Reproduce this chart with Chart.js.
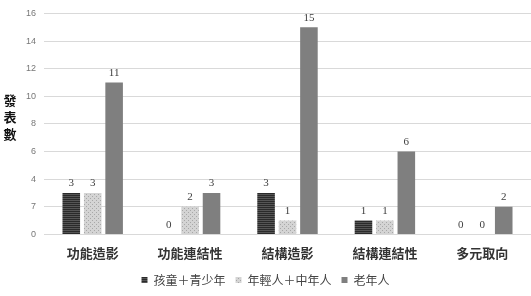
<!DOCTYPE html>
<html>
<head>
<meta charset="utf-8">
<script src="https://cdn.jsdelivr.net/npm/chart.js@4/dist/chart.umd.min.js"></script>
<style>
  body { margin: 0; background: #fff; }
</style>
</head>
<body>
<canvas id="chart" width="531" height="296"></canvas>
<script>
const categories = ["功能造影", "功能連結性", "結構造影", "結構連結性", "多元取向"];
const seriesNames = ["孩童＋青少年", "年輕人＋中年人", "老年人"];
const youth = [3, 0, 3, 1, 0];
const adults = [3, 2, 1, 1, 0];
const elderly = [11, 3, 15, 6, 2];
const tickLabels = ["0", "7", "4", "6", "8", "10", "12", "14", "16"];

const cjk = "'Noto Sans CJK TC', 'Noto Sans CJK SC', sans-serif";

function makePattern(bg, fg, kind) {
  const c = document.createElement("canvas");
  c.width = 4;
  c.height = 4;
  const g = c.getContext("2d");
  g.fillStyle = bg;
  g.fillRect(0, 0, 4, 4);
  g.fillStyle = fg;
  if (kind === "lines") {
    g.fillRect(0, 0, 4, 1);
    g.fillRect(0, 2, 4, 1);
  } else {
    g.fillRect(0, 0, 1, 1);
    g.fillRect(2, 2, 1, 1);
  }
  return g.createPattern(c, "repeat");
}

const darkFill = makePattern("#2a2a2a", "#555555", "lines");
const lightFill = makePattern("#d4d4d4", "#a8a8a8", "dots");

// values above bars
const valueLabels = {
  id: "valueLabels",
  afterDatasetsDraw(chart) {
    const ctx = chart.ctx;
    ctx.save();
    ctx.font = "11px 'Liberation Serif', serif";
    ctx.fillStyle = "#404040";
    ctx.textAlign = "center";
    ctx.textBaseline = "bottom";
    chart.data.datasets.forEach((ds, i) => {
      chart.getDatasetMeta(i).data.forEach((bar, j) => {
        ctx.fillText(String(ds.data[j]), bar.x, bar.y - 4);
      });
    });
    ctx.restore();
  }
};

// vertical y title
const yTitle = {
  id: "yTitle",
  afterDraw(chart) {
    const ctx = chart.ctx;
    ctx.save();
    ctx.font = "bold 13px " + cjk;
    ctx.fillStyle = "#111";
    ctx.textAlign = "center";
    ctx.textBaseline = "middle";
    ["發", "表", "數"].forEach((ch, k) => {
      ctx.fillText(ch, 10, 100 + k * 17);
    });
    ctx.restore();
  }
};

new Chart(document.getElementById("chart"), {
  type: "bar",
  data: {
    labels: categories,
    datasets: [
      { label: seriesNames[0], data: youth, backgroundColor: darkFill },
      { label: seriesNames[1], data: adults, backgroundColor: lightFill },
      { label: seriesNames[2], data: elderly, backgroundColor: "#7f7f7f" }
    ]
  },
  options: {
    responsive: false,
    animation: false,
    categoryPercentage: 0.66,
    barPercentage: 0.82,
    layout: { padding: { top: 8, right: 0, left: 0, bottom: 0 } },
    plugins: {
      legend: {
        position: "bottom",
        labels: {
          boxWidth: 6,
          boxHeight: 6,
          padding: 10,
          color: "#444",
          font: { size: 12, family: cjk }
        }
      },
      tooltip: { enabled: false }
    },
    scales: {
      x: {
        grid: { display: false },
        border: { display: false },
        ticks: {
          color: "#333",
          padding: 3,
          font: { size: 13, weight: "bold", family: cjk }
        }
      },
      y: {
        min: 0,
        max: 16,
        afterFit: (s) => { s.width = 44; },
        border: { display: false },
        grid: { color: "#d9d9d9", drawTicks: false },
        ticks: {
          stepSize: 2,
          padding: 8,
          color: "#777",
          font: { size: 9, family: "'Liberation Sans', sans-serif" },
          callback: (v) => tickLabels[v / 2]
        }
      }
    }
  },
  plugins: [valueLabels, yTitle]
});
</script>
</body>
</html>
